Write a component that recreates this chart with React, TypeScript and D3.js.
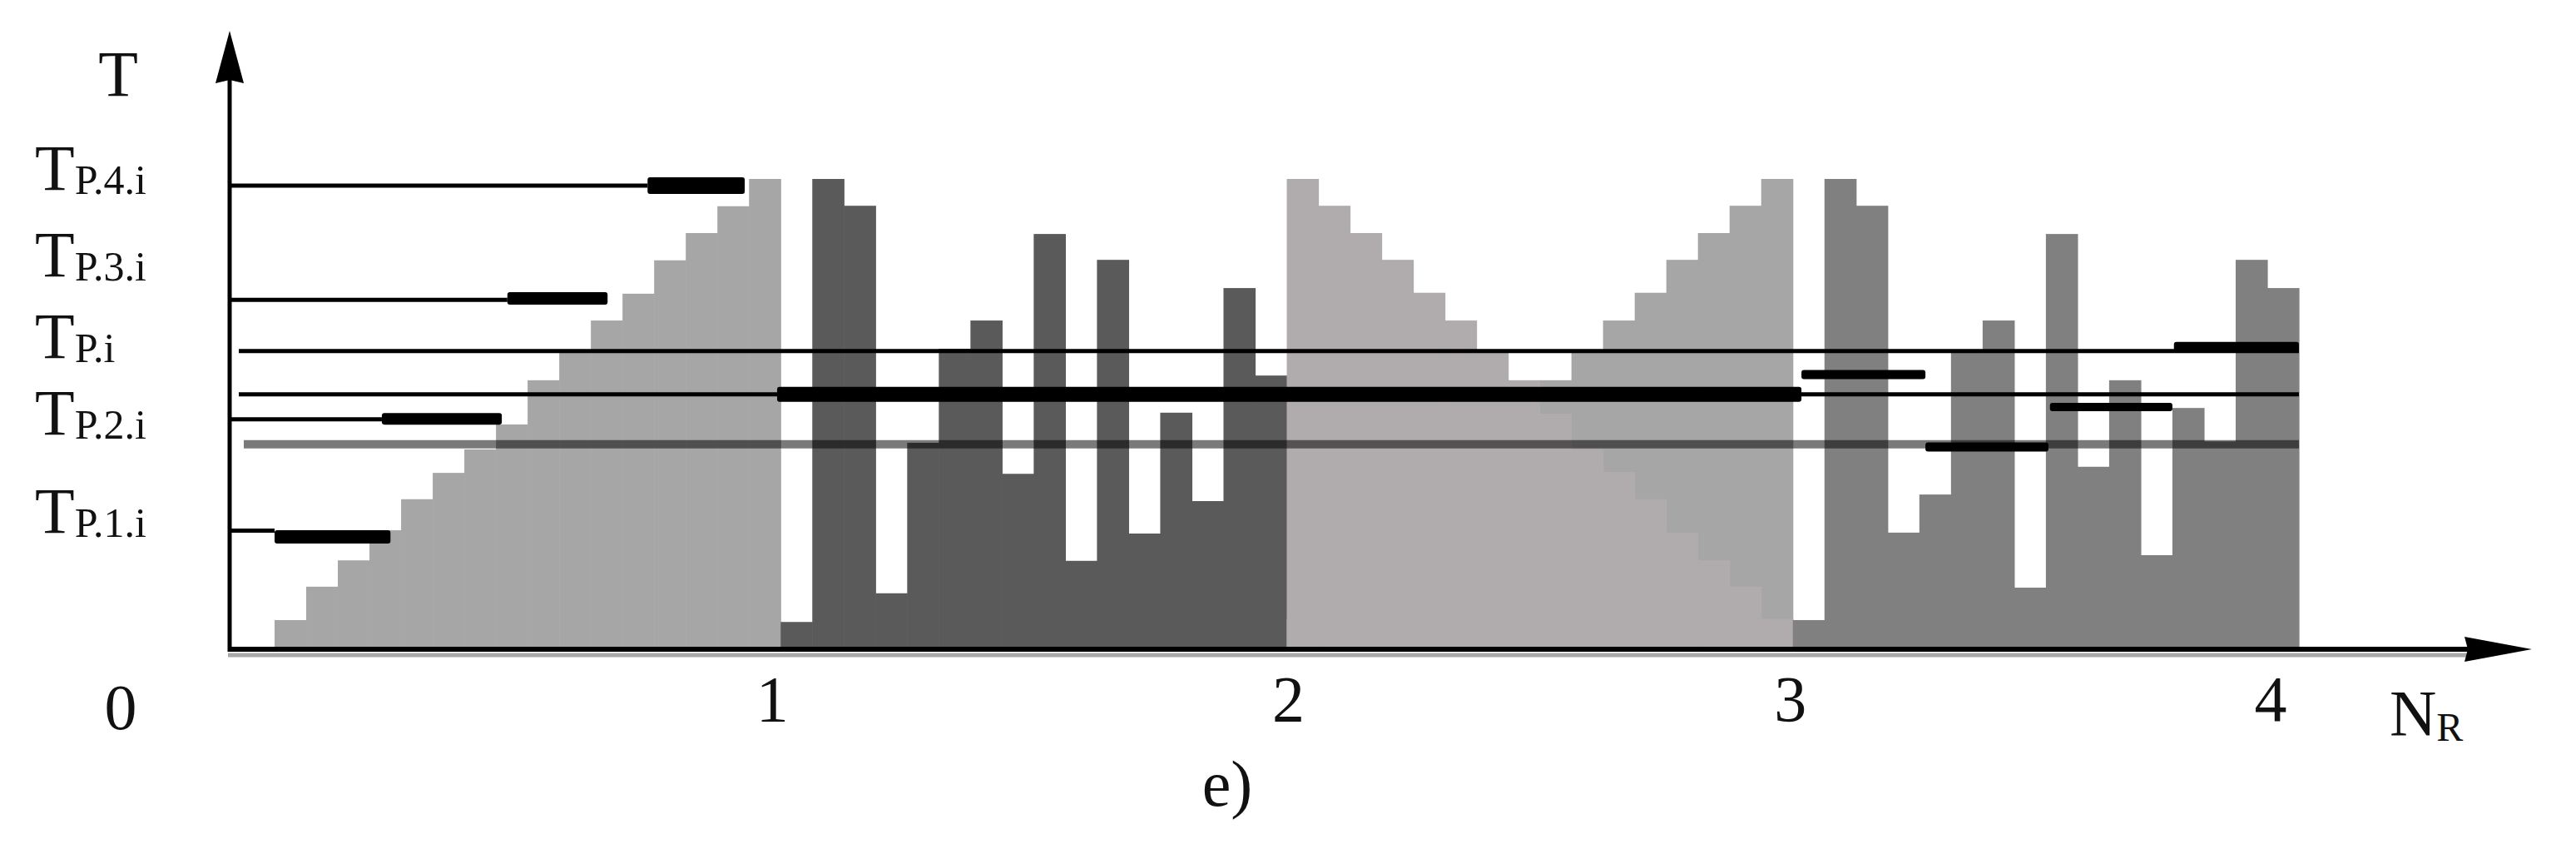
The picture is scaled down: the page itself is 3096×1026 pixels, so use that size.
import React, { useEffect, useRef } from 'react';
import * as d3 from 'd3';

// N_R ticks (rolling campaigns) and the origin label
const xTicks = [1, 2, 3, 4];
const originLabel = '0';

// column heights per campaign, % of the tallest column (16 columns each)
const campaign1 = [6.2, 13.3, 18.9, 25.3, 31.9, 37.5, 42.5, 47.8, 57.2, 63.7, 69.9, 75.6, 82.7, 88.5, 94.2, 100];
const campaign2 = [5.8, 100, 94.3, 11.9, 43.9, 63.9, 69.9, 37.3, 88.3, 18.8, 82.8, 24.6, 50.3, 31.5, 76.8, 58.2];
const campaign3Rising = [6.5, 13.3, 18.9, 24.8, 31.9, 37.7, 42.5, 50.1, 57.2, 63.7, 69.9, 75.8, 82.8, 88.5, 94.3, 100];
const campaign3Falling = [100, 94.3, 88.5, 82.8, 75.8, 69.9, 63.7, 57.2, 50.1, 42.5, 37.7, 31.9, 24.8, 18.9, 13.3, 6.5];
const campaign4 = [6.2, 100, 94.3, 24.8, 32.9, 63.7, 69.9, 13.1, 88.3, 38.8, 57.2, 20.0, 51.3, 44.2, 82.8, 76.8];

// level labels on the T axis
const levelNames = ['P.4.i', 'P.3.i', 'P.i', 'P.2.i', 'P.1.i'];
const levelLabelAt = [97.7, 79.3, 61.9, 45.7, 24.8];

// thin level lines starting at the T axis, ending at N_R
const shortLevels = [98.6, 74.3, 48.9, 25.2];
const shortLevelEnds = [0.737, 0.46, 0.212, 0.0];
// long lines across all campaigns
const longLevels = [63.4, 54.2];
const grayLevel = 43.6;

// thick segments: level, N_R start, N_R end
const segLevels = [98.6, 74.6, 49.0, 23.9, 54.2, 64.2, 58.4, 43.0, 51.5];
const segStarts = [0.737, 0.46, 0.212, 0.0, 0.993, 3.753, 3.017, 3.262, 3.508];
const segEnds = [0.929, 0.658, 0.449, 0.229, 3.017, 4.0, 3.262, 3.505, 3.75];
const segThickness = [20, 15, 14, 16, 18, 13, 11, 11, 10];

// small horizontal nudges of the tick labels, as in the print
const tickNudge = [-10, 2, -3, -34];

const FONT = '"Liberation Serif", "DejaVu Serif", "Times New Roman", serif';

export default function App() {
	const svgRef = useRef<SVGSVGElement>(null);

	useEffect(() => {
		const svg = d3.select(svgRef.current);
		svg.selectAll('*').remove();

		const x = d3.scaleLinear().domain([0, 4]).range([330, 2763]);
		const y = d3.scaleLinear().domain([0, 100]).range([780, 215]);
		const axisX = 276;
		const base = y(0);

		// Columns
		const drawColumns = (values: number[], start: number, fill: string) => {
			const n = values.length;
			svg.append('g')
				.selectAll('rect')
				.data(values)
				.join('rect')
				.attr('x', (d, i) => x(start + i / n))
				.attr('width', (d, i) => x(start + (i + 1) / n) - x(start + i / n) + 0.6)
				.attr('y', (d) => y(d))
				.attr('height', (d) => base - y(d))
				.attr('fill', fill);
		};
		drawColumns(campaign1, 0, '#a6a6a6');
		drawColumns(campaign2, 1, '#5a5a5a');
		drawColumns(campaign3Rising, 2, '#a6a6a6');
		drawColumns(campaign3Falling, 2, '#b0acad');
		drawColumns(campaign4, 3, '#808080');

		// Thin level lines
		shortLevels.forEach((t, i) => {
			svg.append('line')
				.attr('x1', axisX)
				.attr('x2', x(shortLevelEnds[i]))
				.attr('y1', y(t))
				.attr('y2', y(t))
				.attr('stroke', '#000')
				.attr('stroke-width', 5);
		});
		longLevels.forEach((t) => {
			svg.append('line')
				.attr('x1', axisX + 11)
				.attr('x2', x(4))
				.attr('y1', y(t))
				.attr('y2', y(t))
				.attr('stroke', '#000')
				.attr('stroke-width', 5);
		});
		svg.append('line')
			.attr('x1', axisX + 17)
			.attr('x2', x(4))
			.attr('y1', y(grayLevel))
			.attr('y2', y(grayLevel))
			.attr('stroke', '#000')
			.attr('stroke-opacity', 0.52)
			.attr('stroke-width', 10);

		// Thick segments
		segLevels.forEach((t, i) => {
			const h = segThickness[i];
			svg.append('rect')
				.attr('x', x(segStarts[i]))
				.attr('width', x(segEnds[i]) - x(segStarts[i]))
				.attr('y', y(t) - h / 2)
				.attr('height', h)
				.attr('rx', 3)
				.attr('fill', '#000');
		});

		// Axes
		svg.append('line')
			.attr('x1', axisX - 2)
			.attr('x2', 2975)
			.attr('y1', base + 7)
			.attr('y2', base + 7)
			.attr('stroke', '#a8a8a8')
			.attr('stroke-width', 5);
		svg.append('line')
			.attr('x1', axisX - 2)
			.attr('x2', 2975)
			.attr('y1', base)
			.attr('y2', base)
			.attr('stroke', '#000')
			.attr('stroke-width', 6);
		svg.append('path')
			.attr('d', `M3043,${base} L2962,${base - 15} L2966,${base} L2962,${base + 15} Z`)
			.attr('fill', '#000');

		svg.append('line')
			.attr('x1', axisX)
			.attr('x2', axisX)
			.attr('y1', base + 3)
			.attr('y2', 95)
			.attr('stroke', '#000')
			.attr('stroke-width', 5);
		svg.append('path')
			.attr('d', `M${axisX},37 L${axisX - 17},100 L${axisX},96 L${axisX + 17},100 Z`)
			.attr('fill', '#000');

		const text = (s: string, tx: number, ty: number, size: number, anchor = 'middle') =>
			svg.append('text')
				.attr('x', tx)
				.attr('y', ty)
				.attr('font-family', FONT)
				.attr('font-size', size)
				.attr('text-anchor', anchor)
				.attr('fill', '#111')
				.text(s);

		// Tick labels
		xTicks.forEach((v, i) => text(String(v), x(v) + tickNudge[i], 866, 78));
		text(originLabel, 145, 876, 78);

		// Axis titles
		text('T', 142, 115, 78);
		const nr = text('N', 2872, 883, 78, 'start');
		nr.append('tspan').attr('font-size', 48).attr('dy', 7).text('R');
		text('e)', 1475, 968, 78);

		// Level labels
		levelNames.forEach((name, i) => {
			const t = text('T', 42, y(levelLabelAt[i]), 78, 'start');
			t.append('tspan').attr('font-size', 50).attr('dy', 5).text(name);
		});
	}, []);

	return (
		<svg
			ref={svgRef}
			width={3096}
			height={1026}
			style={{ position: 'absolute', left: 0, top: 0, background: '#fff' }}
		/>
	);
}
